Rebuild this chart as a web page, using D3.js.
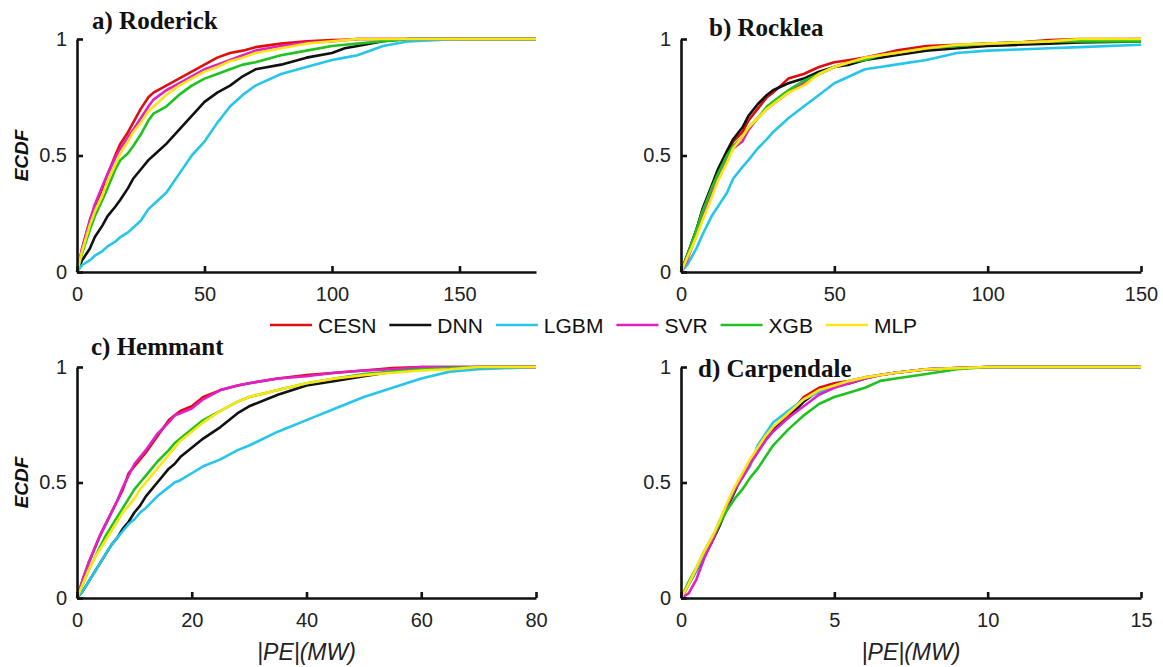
<!DOCTYPE html>
<html>
<head>
<meta charset="utf-8">
<script src="https://cdn.jsdelivr.net/npm/d3@7"></script>
<style>
  html, body { margin: 0; padding: 0; background: #fff; }
  svg { display: block; }
</style>
</head>
<body>
<svg id="chart" width="1163" height="667"></svg>
<script>
// ---------------- DATA ----------------
const seriesNames = ["CESN", "DNN", "LGBM", "SVR", "XGB", "MLP"];
const seriesColors = ["#e00d0d", "#111111", "#25c6ea", "#e020c8", "#1fc21f", "#ffe510"];

// a) Roderick
const roderickX    = [0, 2, 5, 7, 10, 12, 15, 17, 20, 22, 25, 28, 30, 35, 40, 45, 50, 55, 60, 65, 70, 80, 90, 100, 105, 110, 120, 130, 150, 180];
const roderickCESN = [0, .10, .22, .28, .36, .42, .50, .55, .60, .64, .70, .75, .77, .80, .83, .86, .89, .92, .94, .95, .965, .98, .99, .995, .997, 1, 1, 1, 1, 1];
const roderickDNN  = [0, .05, .10, .15, .20, .24, .28, .31, .36, .40, .44, .48, .50, .55, .61, .67, .73, .77, .80, .84, .87, .89, .92, .94, .96, .97, .99, 1, 1, 1];
const roderickLGBM = [0, .03, .05, .07, .09, .11, .13, .15, .17, .19, .22, .27, .29, .34, .42, .50, .56, .64, .71, .76, .80, .85, .88, .91, .92, .93, .97, .99, 1, 1];
const roderickSVR  = [0, .10, .22, .29, .37, .42, .49, .53, .58, .61, .66, .71, .74, .78, .81, .84, .87, .89, .91, .93, .95, .97, .985, .99, .995, 1, 1, 1, 1, 1];
const roderickXGB  = [0, .08, .18, .24, .31, .36, .44, .48, .51, .54, .59, .65, .68, .71, .76, .80, .83, .85, .87, .89, .90, .93, .95, .97, .975, .98, .99, 1, 1, 1];
const roderickMLP  = [0, .09, .20, .26, .33, .39, .46, .51, .56, .60, .64, .69, .71, .76, .80, .83, .86, .88, .905, .92, .94, .96, .98, .99, .995, 1, 1, 1, 1, 1];

// b) Rocklea
const rockleaX    = [0, 2, 5, 7, 10, 12, 15, 17, 20, 22, 25, 28, 30, 35, 40, 45, 50, 55, 60, 65, 70, 80, 90, 100, 110, 120, 130, 150];
const rockleaCESN = [0, .07, .18, .26, .36, .43, .51, .56, .60, .65, .70, .75, .77, .83, .85, .88, .90, .91, .92, .935, .95, .97, .975, .98, .985, .995, 1, 1];
const rockleaDNN  = [0, .07, .18, .27, .37, .44, .52, .57, .62, .67, .72, .76, .78, .81, .83, .86, .88, .89, .91, .92, .93, .95, .96, .97, .975, .98, .985, .99];
const rockleaLGBM = [0, .03, .10, .16, .24, .28, .34, .40, .45, .48, .53, .57, .60, .66, .71, .76, .81, .84, .87, .88, .89, .91, .94, .95, .955, .96, .965, .975];
const rockleaSVR  = [0, .05, .16, .24, .34, .41, .49, .53, .56, .61, .66, .70, .72, .77, .81, .85, .88, .90, .92, .93, .94, .96, .97, .98, .985, .99, .995, 1];
const rockleaXGB  = [0, .07, .18, .26, .36, .42, .50, .54, .58, .62, .66, .71, .73, .78, .82, .85, .88, .90, .91, .93, .94, .96, .97, .98, .985, .99, .99, .99];
const rockleaMLP  = [0, .06, .15, .22, .32, .39, .47, .53, .58, .62, .66, .70, .72, .77, .80, .85, .88, .90, .92, .93, .94, .96, .975, .98, .985, .99, 1, 1];

// c) Hemmant
const hemmantX    = [0, 1, 2, 3, 4, 5, 6, 7, 8, 9, 10, 11, 12, 14, 16, 17, 18, 20, 22, 25, 28, 30, 35, 40, 45, 50, 55, 60, 65, 70, 80];
const hemmantCESN = [0, .08, .15, .21, .27, .32, .37, .42, .47, .54, .57, .60, .63, .70, .77, .79, .81, .83, .87, .90, .92, .93, .95, .965, .975, .985, .995, 1, 1, 1, 1];
const hemmantDNN  = [0, .03, .07, .11, .15, .19, .23, .26, .30, .33, .37, .40, .44, .50, .56, .58, .61, .65, .69, .74, .80, .83, .88, .92, .94, .96, .98, .99, .995, 1, 1];
const hemmantLGBM = [0, .03, .07, .11, .15, .19, .23, .26, .29, .32, .34, .37, .39, .44, .48, .50, .51, .54, .57, .60, .64, .66, .72, .77, .82, .87, .91, .95, .98, .99, 1];
const hemmantSVR  = [0, .08, .15, .21, .27, .32, .37, .42, .48, .53, .58, .61, .64, .71, .76, .79, .80, .82, .86, .90, .92, .93, .95, .96, .975, .985, .99, 1, 1, 1, 1];
const hemmantXGB  = [0, .06, .12, .17, .22, .27, .31, .35, .39, .43, .47, .50, .53, .59, .64, .67, .69, .73, .77, .81, .85, .87, .90, .93, .95, .97, .98, .99, .995, 1, 1];
const hemmantMLP  = [0, .06, .12, .17, .21, .25, .29, .33, .37, .40, .43, .47, .50, .56, .62, .65, .68, .72, .76, .81, .85, .87, .90, .93, .95, .965, .975, .985, .99, 1, 1];

// d) Carpendale
const carpendaleX    = [0, 0.25, 0.5, 0.75, 1, 1.25, 1.5, 1.75, 2, 2.25, 2.5, 2.75, 3, 3.5, 4, 4.5, 5, 5.5, 6, 6.5, 7, 8, 9, 10, 12, 15];
const carpendaleCESN = [0, .06, .12, .19, .25, .33, .40, .47, .53, .59, .64, .69, .73, .79, .87, .91, .93, .94, .955, .965, .975, .99, .995, 1, 1, 1];
const carpendaleDNN  = [0, .06, .12, .18, .24, .31, .39, .46, .53, .59, .64, .69, .73, .78, .85, .90, .92, .93, .95, .965, .975, .99, .995, 1, 1, 1];
const carpendaleLGBM = [0, .06, .12, .19, .25, .32, .40, .47, .52, .57, .66, .71, .76, .81, .86, .89, .92, .94, .955, .965, .975, .99, .995, 1, 1, 1];
const carpendaleSVR  = [0, .02, .08, .17, .24, .32, .40, .47, .52, .58, .63, .68, .72, .78, .83, .88, .91, .93, .95, .965, .975, .99, .995, 1, 1, 1];
const carpendaleXGB  = [0, .07, .13, .20, .26, .32, .38, .43, .47, .52, .56, .61, .66, .73, .79, .84, .87, .89, .91, .94, .95, .97, .99, 1, 1, 1];
const carpendaleMLP  = [0, .06, .13, .20, .26, .33, .41, .48, .54, .60, .65, .70, .74, .80, .86, .90, .92, .94, .955, .965, .975, .99, .995, 1, 1, 1];

const yTickValues = [0, 0.5, 1];
const yTickLabels = ["0", "0.5", "1"];

// ---------------- LAYOUT ----------------
const panels = [
  { title: "a) Roderick",   xs: roderickX,   ys: [roderickCESN, roderickDNN, roderickLGBM, roderickSVR, roderickXGB, roderickMLP],
    xMax: 180, xTicks: [0, 50, 100, 150], left: 77, right: 536, top: 39, bottom: 272, tx: 92, ty: 29, yLabel: true, xLabel: false },
  { title: "b) Rocklea",    xs: rockleaX,    ys: [rockleaCESN, rockleaDNN, rockleaLGBM, rockleaSVR, rockleaXGB, rockleaMLP],
    xMax: 150, xTicks: [0, 50, 100, 150], left: 681, right: 1141, top: 39, bottom: 272, tx: 709, ty: 36, yLabel: false, xLabel: false },
  { title: "c) Hemmant",    xs: hemmantX,    ys: [hemmantCESN, hemmantDNN, hemmantLGBM, hemmantSVR, hemmantXGB, hemmantMLP],
    xMax: 80, xTicks: [0, 20, 40, 60, 80], left: 77, right: 536, top: 367, bottom: 598, tx: 91, ty: 355, yLabel: true, xLabel: true },
  { title: "d) Carpendale", xs: carpendaleX, ys: [carpendaleCESN, carpendaleDNN, carpendaleLGBM, carpendaleSVR, carpendaleXGB, carpendaleMLP],
    xMax: 15, xTicks: [0, 5, 10, 15], left: 681, right: 1141, top: 367, bottom: 598, tx: 698, ty: 377, yLabel: false, xLabel: true }
];

const svg = d3.select("#chart");
const tickFont = "Liberation Sans, Arial, sans-serif";

panels.forEach(p => {
  const x = d3.scaleLinear().domain([0, p.xMax]).range([p.left, p.right]);
  const y = d3.scaleLinear().domain([0, 1]).range([p.bottom, p.top]);
  const g = svg.append("g");

  // curves
  const line = d3.line().x(d => x(d[0])).y(d => y(d[1]));
  p.ys.forEach((vals, i) => {
    const pts = p.xs.map((xv, k) => [xv, vals[k]]);
    g.append("path")
      .attr("d", line(pts))
      .attr("fill", "none")
      .attr("stroke", seriesColors[i])
      .attr("stroke-width", 2.6)
      .attr("stroke-linejoin", "round");
  });

  // axes (MATLAB-style inward ticks)
  const xAxis = d3.axisBottom(x).tickValues(p.xTicks).tickSizeInner(-6).tickSizeOuter(0).tickPadding(15);
  const gx = g.append("g").attr("transform", `translate(0,${p.bottom})`).call(xAxis);
  const yAxis = d3.axisLeft(y).tickValues(yTickValues).tickFormat((d, i) => yTickLabels[i]).tickSizeInner(-6).tickSizeOuter(0).tickPadding(10);
  const gy = g.append("g").attr("transform", `translate(${p.left},0)`).call(yAxis);

  [gx, gy].forEach(ax => {
    ax.select(".domain").attr("stroke", "#111").attr("stroke-width", 2.6);
    ax.selectAll(".tick line").attr("stroke", "#111").attr("stroke-width", 2.6);
    ax.selectAll(".tick text").attr("fill", "#222").style("font-family", tickFont).style("font-size", "20px");
  });
  gx.selectAll(".tick text").attr("dy", "0.71em");

  // title
  svg.append("text")
    .attr("x", p.tx).attr("y", p.ty)
    .style("font-family", "Liberation Serif, Times New Roman, serif")
    .style("font-weight", "bold")
    .style("font-size", "25px")
    .attr("fill", "#111")
    .text(p.title);

  if (p.yLabel) {
    svg.append("text")
      .attr("transform", `translate(${28},${(p.top + p.bottom) / 2}) rotate(-90)`)
      .attr("text-anchor", "middle")
      .style("font-family", tickFont)
      .style("font-weight", "bold")
      .style("font-style", "italic")
      .style("font-size", "19px")
      .attr("fill", "#111")
      .text("ECDF");
  }
  if (p.xLabel) {
    svg.append("text")
      .attr("x", (p.left + p.right) / 2).attr("y", 660)
      .attr("text-anchor", "middle")
      .style("font-family", tickFont)
      .style("font-style", "italic")
      .style("font-size", "23px")
      .attr("fill", "#222")
      .text("|PE|(MW)");
  }
});

// ---------------- LEGEND ----------------
const legend = svg.append("g").attr("transform", "translate(270,325)");
let lx = 0;
seriesNames.forEach((name, i) => {
  legend.append("line")
    .attr("x1", lx).attr("x2", lx + 42).attr("y1", 0).attr("y2", 0)
    .attr("stroke", seriesColors[i]).attr("stroke-width", 2.6);
  const t = legend.append("text")
    .attr("x", lx + 48).attr("y", 7.5)
    .style("font-family", tickFont)
    .style("font-size", "21px")
    .attr("fill", "#111")
    .text(name);
  lx += 48 + t.node().getComputedTextLength() + 13;
});
</script>
</body>
</html>
